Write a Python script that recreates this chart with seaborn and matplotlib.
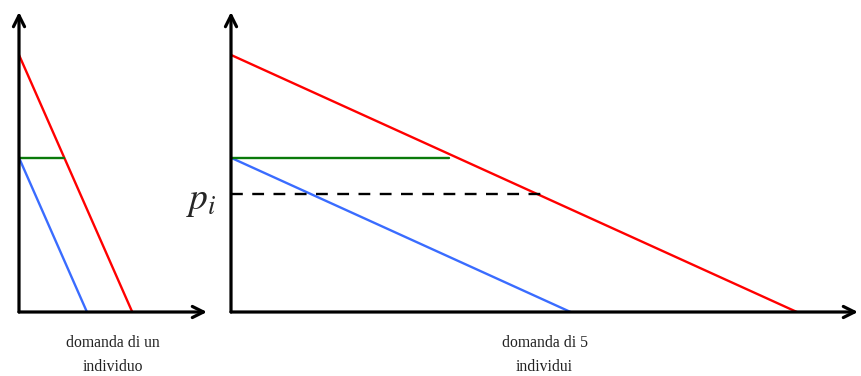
import matplotlib
matplotlib.use("Agg")
import matplotlib.pyplot as plt
import pandas as pd
import seaborn as sns

sns.set_style("white")
plt.rcParams["font.family"] = ["Liberation Serif", "DejaVu Serif"]
plt.rcParams["mathtext.fontset"] = "stix"

# intercepts (price units / quantity units)
p_max_red = 10
p_max_blue = 6
p_green = 6
q_red = [10, 50]     # one person, 5 people
q_blue = [6, 30]
q_green = [4, 19.3]
p_i = 4.6
q_dash_end = 27.9

labels = ["domanda di un\nindividuo", "domanda di 5\nindividui"]

def segments(k):
    rows = [
        ("red", 0, p_max_red), ("red", q_red[k], 0),
        ("blue", 0, p_max_blue), ("blue", q_blue[k], 0),
        ("green", 0, p_green), ("green", q_green[k], p_green),
    ]
    return pd.DataFrame(rows, columns=["curve", "q", "p"])

colors = {"red": "#ff0000", "blue": "#3a6cff", "green": "#0a7a0a"}

fig = plt.figure(figsize=(8.61, 3.76), dpi=100)
W, H = 861, 376
ax1 = fig.add_axes([19 / W, 64 / H, 188 / W, 300 / H])
ax2 = fig.add_axes([231 / W, 64 / H, 627 / W, 300 / H])

for k, (ax, xmax) in enumerate([(ax1, 16.6), (ax2, 55.4)]):
    sns.lineplot(data=segments(k), x="q", y="p", hue="curve", palette=colors, sort=False,
                 estimator=None, lw=1.7, legend=False, ax=ax)
    ax.set_xlim(0, xmax)
    ax.set_ylim(0, 11.67)
    ax.set_xticks([])
    ax.set_yticks([])
    ax.set_xlabel("")
    ax.set_ylabel("")
    for s in ax.spines.values():
        s.set_visible(False)
    arrow = dict(arrowstyle="->,head_length=0.8,head_width=0.4", lw=2.3, color="black",
                 shrinkA=0, shrinkB=0)
    ax.annotate("", xy=(1, 0), xytext=(0, 0), xycoords="axes fraction", arrowprops=arrow)
    ax.annotate("", xy=(0, 1), xytext=(0, 0), xycoords="axes fraction", arrowprops=arrow)
    ax.text(0.5, -0.077, labels[k], transform=ax.transAxes, ha="center", va="top",
            fontsize=11.3, linespacing=1.65, color="#222222")

sns.lineplot(x=[0, q_dash_end], y=[p_i, p_i], color="black", lw=1.7,
             linestyle=(0, (5, 4)), ax=ax2)
ax2.annotate(r"$p_i$", xy=(0, p_i), xytext=(-10, -5.5), textcoords="offset points",
             ha="right", va="center", fontsize=27, annotation_clip=False)

fig.savefig("out.png", dpi=100)
